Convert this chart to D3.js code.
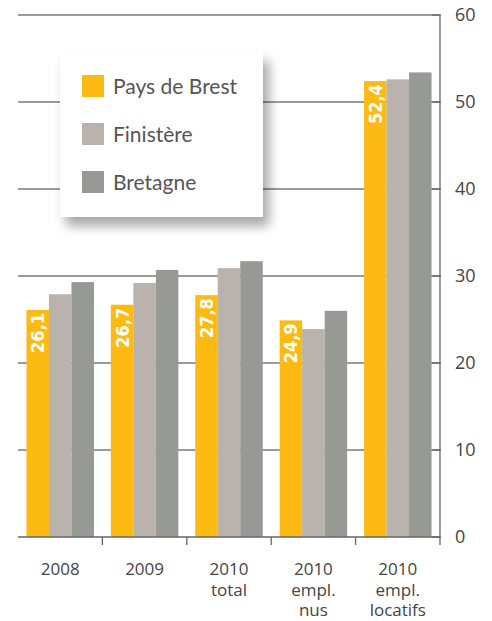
<!DOCTYPE html>
<html>
<head>
<meta charset="utf-8">
<script src="https://cdn.jsdelivr.net/npm/d3@7"></script>
<style>
  body { margin: 0; background: #fff; }
  text { font-family: Lato, "Open Sans", sans-serif; }
</style>
</head>
<body>
<svg width="492" height="621"></svg>
<script>
// données
var categories = ["2008", "2009", "2010 total", "2010 empl. nus", "2010 empl. locatifs"];
var catLines = [["2008"], ["2009"], ["2010", "total"], ["2010", "empl.", "nus"], ["2010", "empl.", "locatifs"]];
var series = ["Pays de Brest", "Finistère", "Bretagne"];
var brest = [26.1, 26.7, 27.8, 24.9, 52.4];
var finistere = [27.9, 29.2, 30.9, 23.9, 52.6];
var bretagne = [29.3, 30.7, 31.7, 26.0, 53.4];
var yTicks = [0, 10, 20, 30, 40, 50, 60];
var colors = ["#FDBA12", "#BAB2AC", "#979A94"];

var values = [brest, finistere, bretagne];
var svg = d3.select("svg");

var plotLeft = 18, plotRight = 440, plotTop = 15, plotBottom = 537;

var x = d3.scaleBand()
  .domain(categories)
  .range([plotLeft, plotRight])
  .paddingInner(0.2)
  .paddingOuter(0.1);

var x1 = d3.scaleBand()
  .domain(series)
  .range([0, x.bandwidth()]);

var y = d3.scaleLinear()
  .domain([0, 60])
  .range([plotBottom, plotTop]);

// grille
svg.append("g")
  .selectAll("line")
  .data(yTicks.filter(function (d) { return d > 0; }))
  .enter()
  .append("line")
  .attr("x1", plotLeft)
  .attr("x2", plotRight)
  .attr("y1", function (d) { return y(d); })
  .attr("y2", function (d) { return y(d); })
  .attr("stroke", "#7a7a7a")
  .attr("stroke-width", 1.3);

// barres
var groups = svg.append("g")
  .selectAll("g")
  .data(categories)
  .enter()
  .append("g")
  .attr("transform", function (d) { return "translate(" + x(d) + ",0)"; });

groups.selectAll("rect")
  .data(function (d, i) {
    return series.map(function (s, j) { return { s: s, j: j, v: values[j][i] }; });
  })
  .enter()
  .append("rect")
  .attr("x", function (d) { return x1(d.s); })
  .attr("width", x1.bandwidth())
  .attr("y", function (d) { return y(d.v); })
  .attr("height", function (d) { return y(0) - y(d.v); })
  .attr("fill", function (d) { return colors[d.j]; });

// étiquettes Pays de Brest
groups.append("text")
  .attr("transform", function (d, i) {
    return "translate(" + (x1("Pays de Brest") + x1.bandwidth() / 2 + 6.5) + "," + (y(brest[i]) + 3) + ") rotate(-90)";
  })
  .attr("text-anchor", "end")
  .attr("fill", "#fff")
  .attr("font-weight", "bold")
  .attr("font-size", 18)
  .style("font-family", "'DejaVu Sans Condensed', 'Liberation Sans Narrow', sans-serif")
  .text(function (d, i) { return String(brest[i]).replace(".", ","); });

// axe x
svg.append("line")
  .attr("x1", plotLeft).attr("x2", plotRight)
  .attr("y1", plotBottom).attr("y2", plotBottom)
  .attr("stroke", "#666").attr("stroke-width", 1.3);

svg.append("g")
  .selectAll("line")
  .data(categories.slice(1))
  .enter()
  .append("line")
  .attr("x1", function (d) { return x(d) - x.step() * x.paddingInner() / 2; })
  .attr("x2", function (d) { return x(d) - x.step() * x.paddingInner() / 2; })
  .attr("y1", plotBottom)
  .attr("y2", plotBottom + 8)
  .attr("stroke", "#666").attr("stroke-width", 1.3);

var xLabels = svg.append("g")
  .selectAll("text")
  .data(categories)
  .enter()
  .append("text")
  .attr("x", function (d) { return x(d) + x.bandwidth() / 2; })
  .attr("y", 575)
  .attr("text-anchor", "middle")
  .attr("fill", "#444")
  .attr("font-size", 17)
  .style("font-family", "'Open Sans', sans-serif");

xLabels.selectAll("tspan")
  .data(function (d, i) { return catLines[i]; })
  .enter()
  .append("tspan")
  .attr("x", function () { return d3.select(this.parentNode).attr("x"); })
  .attr("dy", function (d, i) { return i === 0 ? 0 : 20.5; })
  .text(function (d) { return d; });

// axe y à droite
var yAxis = d3.axisRight(y)
  .tickValues(yTicks)
  .tickSize(0)
  .tickPadding(15);

var gy = svg.append("g")
  .attr("transform", "translate(" + plotRight + ",0)")
  .call(yAxis);
gy.select(".domain").remove();
gy.selectAll("text")
  .attr("font-size", 18)
  .attr("fill", "#444")
  .style("font-family", "'Open Sans', sans-serif");

svg.append("line")
  .attr("x1", plotRight).attr("x2", plotRight)
  .attr("y1", plotTop).attr("y2", plotBottom + 8)
  .attr("stroke", "#666").attr("stroke-width", 1.3);

svg.append("g")
  .selectAll("line")
  .data(yTicks)
  .enter()
  .append("line")
  .attr("x1", plotRight - 8)
  .attr("x2", plotRight + 1)
  .attr("y1", function (d) { return y(d); })
  .attr("y2", function (d) { return y(d); })
  .attr("stroke", "#666").attr("stroke-width", 1.3);

// légende
var defs = svg.append("defs");
var filter = defs.append("filter")
  .attr("id", "ombre")
  .attr("x", "-20%").attr("y", "-20%")
  .attr("width", "150%").attr("height", "150%");
filter.append("feDropShadow")
  .attr("dx", 6).attr("dy", 9)
  .attr("stdDeviation", 6)
  .attr("flood-color", "#000")
  .attr("flood-opacity", 0.35);

var legend = svg.append("g").attr("transform", "translate(60,52)");
legend.append("rect")
  .attr("width", 203)
  .attr("height", 165)
  .attr("fill", "#fff")
  .attr("filter", "url(#ombre)");

series.forEach(function (s, i) {
  legend.append("rect")
    .attr("x", 22)
    .attr("y", 23 + i * 48)
    .attr("width", 22)
    .attr("height", 22)
    .attr("fill", colors[i]);
  legend.append("text")
    .attr("x", 53)
    .attr("y", 42 + i * 48)
    .attr("font-size", 21)
    .attr("fill", "#555")
    .text(s);
});
</script>
</body>
</html>
